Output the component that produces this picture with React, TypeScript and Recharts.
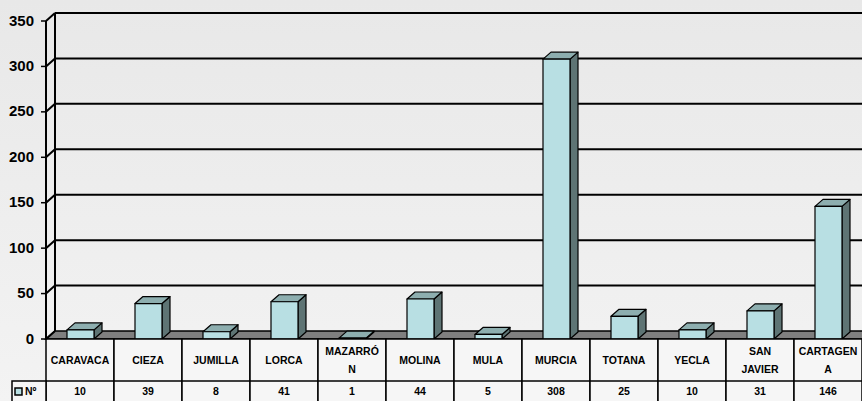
import { BarChart, Bar, XAxis, YAxis, CartesianGrid } from 'recharts';

// municipios y número de casos
const towns = ['CARAVACA', 'CIEZA', 'JUMILLA', 'LORCA', 'MAZARRÓN', 'MOLINA', 'MULA', 'MURCIA', 'TOTANA', 'YECLA', 'SAN JAVIER', 'CARTAGENA'];
const counts = [10, 39, 8, 41, 1, 44, 5, 308, 25, 10, 31, 146];
// cómo parte Excel las etiquetas dentro de la tabla
const headerLines = [['CARAVACA'], ['CIEZA'], ['JUMILLA'], ['LORCA'], ['MAZARRÓ', 'N'], ['MOLINA'], ['MULA'], ['MURCIA'], ['TOTANA'], ['YECLA'], ['SAN', 'JAVIER'], ['CARTAGEN', 'A']];
const yTicks = [0, 50, 100, 150, 200, 250, 300, 350];
const seriesName = 'Nº';

const chartData = towns.map((name, i) => ({ name, value: counts[i] }));

const FONT = '"Liberation Sans", Arial, sans-serif';
const DX = 9; // profundidad de la pared
const DY = 8;
const BX = 8; // profundidad de las barras
const BY = 7;
const HEADER_H = 42;
const ROW_H = 20;

const FRONT = '#B8DFE3';
const TOP = '#8DAEAF';
const SIDE = '#5E7474';

function GridLine(props: any) {
  const { x1, y1, x2, y2 } = props;
  const top = typeof props.y === 'number' ? props.y : 21;
  const bottom = top + (typeof props.height === 'number' ? props.height : 318);
  const isFloor = Math.abs(y1 - bottom) < 1;
  if (isFloor) {
    return (
      <g>
        <line x1={x1 + DX} y1={y1 - DY} x2={x1 + DX} y2={top - DY} stroke="#000" strokeWidth={2} />
        <polygon
          points={`${x1},${y1} ${x1 + DX},${y1 - DY} ${x2 + DX},${y2 - DY} ${x2},${y2}`}
          fill="#7F7F7F"
          stroke="#000"
          strokeWidth={1.5}
        />
      </g>
    );
  }
  return <line x1={x1 + DX} y1={y1 - DY} x2={x2 + DX} y2={y2 - DY} stroke="#000" strokeWidth={2} />;
}

function Bar3D(props: any) {
  const { x, y, width: w, height: h } = props;
  if (x == null || y == null) return null;
  return (
    <g stroke="#000" strokeWidth={1.2} strokeLinejoin="round">
      <polygon points={`${x + w},${y} ${x + w + BX},${y - BY} ${x + w + BX},${y + h - BY} ${x + w},${y + h}`} fill={SIDE} />
      <polygon points={`${x},${y} ${x + BX},${y - BY} ${x + w + BX},${y - BY} ${x + w},${y}`} fill={TOP} />
      <rect x={x} y={y} width={w} height={Math.max(h, 0)} fill={FRONT} />
    </g>
  );
}

function ValueTick(props: any) {
  const { x, y, payload } = props;
  return (
    <g>
      <line x1={x - 5} y1={y} x2={x} y2={y} stroke="#000" strokeWidth={1.5} />
      <line x1={x} y1={y} x2={x + DX} y2={y - DY} stroke="#000" strokeWidth={2} />
      <text x={x - 12} y={y - 1} textAnchor="end" dominantBaseline="central" fontFamily={FONT} fontWeight="bold" fontSize={15} fill="#000">
        {payload.value}
      </text>
    </g>
  );
}

function TableTick(props: any) {
  const { x, y, index } = props;
  const i = typeof index === 'number' ? index : towns.indexOf(props.payload.value);
  const half = 34;
  const lines = headerLines[i] || [props.payload.value];
  const textProps = { fontFamily: FONT, fontWeight: 'bold' as const, fontSize: 10.5, fill: '#000', textAnchor: 'middle' as const, dominantBaseline: 'central' as const };
  const mid = y + HEADER_H / 2;
  return (
    <g>
      <rect x={x - half} y={y} width={half * 2} height={HEADER_H + ROW_H + 4} fill="#F6F6F6" stroke="#000" strokeWidth={1.5} />
      <line x1={x - half} y1={y + HEADER_H} x2={x + half} y2={y + HEADER_H} stroke="#000" strokeWidth={1.5} />
      {lines.length === 1 ? (
        <text x={x} y={mid} {...textProps}>{lines[0]}</text>
      ) : (
        lines.map((l: string, k: number) => (
          <text key={k} x={x} y={mid - 9 + k * 18} {...textProps}>{l}</text>
        ))
      )}
      <text x={x} y={y + HEADER_H + 10} {...textProps}>{counts[i]}</text>
      {i === 0 && (
        <g>
          <rect x={x - half - 34} y={y + HEADER_H} width={34} height={ROW_H + 4} fill="#F6F6F6" stroke="#000" strokeWidth={1.5} />
          <rect x={x - half - 31} y={y + HEADER_H + 7} width={7} height={7} fill={FRONT} stroke="#000" strokeWidth={1.5} />
          <text x={x - half - 21} y={y + HEADER_H + 10} dominantBaseline="central" fontFamily={FONT} fontWeight="bold" fontSize={10.5} fill="#000">
            {seriesName}
          </text>
        </g>
      )}
    </g>
  );
}

export default function App() {
  return (
    <div style={{ position: 'absolute', left: 0, top: 0, width: 862, height: 401, overflow: 'hidden', background: 'linear-gradient(#E8E8E8, #F3F3F3)' }}>
      <BarChart width={862} height={401} data={chartData} margin={{ top: 21, right: 0, bottom: 0, left: 0 }} barSize={27}>
        <CartesianGrid vertical={false} horizontal={GridLine} />
        <XAxis dataKey="name" height={62} axisLine={false} tickLine={false} tickSize={0} tickMargin={0} interval={0} tick={TableTick} />
        <YAxis
          width={46}
          domain={[0, 350]}
          ticks={yTicks}
          interval={0}
          axisLine={{ stroke: '#000', strokeWidth: 2 }}
          tickLine={false}
          tickSize={0}
          tickMargin={0}
          tick={ValueTick}
        />
        <Bar dataKey="value" name={seriesName} shape={Bar3D} isAnimationActive={false} />
      </BarChart>
    </div>
  );
}
